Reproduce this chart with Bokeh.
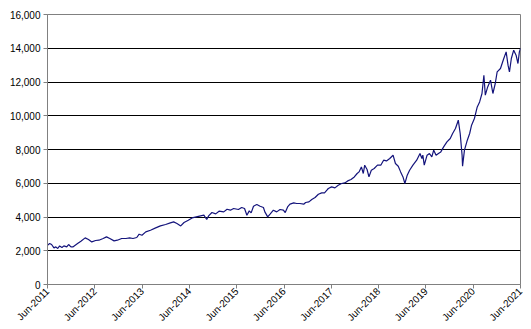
import math
from datetime import datetime, timedelta
from bokeh.plotting import figure
from bokeh.models import FixedTicker, DatetimeTickFormatter, NumeralTickFormatter, Range1d
from bokeh.embed import file_html
from bokeh.resources import INLINE

# dates as decimal years
years = [
    2011.414, 2011.46, 2011.50, 2011.55, 2011.59, 2011.63, 2011.67, 2011.72, 2011.76, 2011.82,
    2011.86, 2011.91, 2011.95, 2012.05, 2012.12, 2012.21, 2012.28, 2012.35, 2012.43, 2012.50,
    2012.59, 2012.66, 2012.73, 2012.82, 2012.89, 2012.98, 2013.07, 2013.15, 2013.22, 2013.30,
    2013.35, 2013.41, 2013.49, 2013.59, 2013.70, 2013.80, 2013.91, 2014.01, 2014.08, 2014.15,
    2014.23, 2014.30, 2014.39, 2014.47, 2014.56, 2014.65, 2014.72, 2014.78, 2014.82, 2014.89,
    2014.97, 2015.04, 2015.14, 2015.21, 2015.28, 2015.35, 2015.45, 2015.52, 2015.58, 2015.63,
    2015.68, 2015.72, 2015.77, 2015.84, 2015.91, 2015.98, 2016.01, 2016.07, 2016.12, 2016.19,
    2016.26, 2016.33, 2016.40, 2016.44, 2016.49, 2016.54, 2016.62, 2016.68, 2016.75, 2016.83,
    2016.87, 2016.94, 2017.00, 2017.07, 2017.14, 2017.21, 2017.27, 2017.32, 2017.35, 2017.42,
    2017.49, 2017.56, 2017.63, 2017.70, 2017.76, 2017.83, 2017.90, 2017.96, 2018.00, 2018.05,
    2018.09, 2018.12, 2018.17, 2018.21, 2018.26, 2018.32, 2018.39, 2018.46, 2018.52, 2018.58,
    2018.65, 2018.72, 2018.77, 2018.83, 2018.88, 2018.93, 2018.97, 2019.02, 2019.07, 2019.14,
    2019.22, 2019.29, 2019.33, 2019.35, 2019.38, 2019.44, 2019.49, 2019.54, 2019.58, 2019.63,
    2019.68, 2019.73, 2019.79, 2019.86, 2019.93, 2019.98, 2020.04, 2020.10, 2020.14, 2020.18,
    2020.19, 2020.23, 2020.29, 2020.34, 2020.38, 2020.44, 2020.50, 2020.55, 2020.60, 2020.64,
    2020.67, 2020.72, 2020.78, 2020.83, 2020.88, 2020.92, 2020.99, 2021.06, 2021.11, 2021.15,
    2021.18, 2021.22, 2021.27, 2021.32, 2021.36, 2021.39, 2021.414,
]
values = [
    2330, 2430, 2370, 2170, 2228, 2133, 2287, 2193, 2287, 2228,
    2370, 2228, 2228, 2430, 2566, 2762, 2667, 2525, 2607, 2625,
    2726, 2821, 2726, 2584, 2625, 2726, 2726, 2762, 2726, 2785,
    2980, 2921, 3117, 3218, 3354, 3473, 3556, 3650, 3710, 3615,
    3473, 3674, 3810, 3947, 4006, 4065, 4107, 3852, 4065, 4267,
    4184, 4344, 4303, 4462, 4403, 4504, 4444, 4563, 4504, 4107,
    4362, 4243, 4640, 4741, 4640, 4563, 4303, 4006, 4166, 4403,
    4303, 4444, 4403, 4267, 4599, 4759, 4836, 4800, 4800, 4759,
    4859, 4895, 5037, 5156, 5351, 5428, 5428, 5588, 5689, 5784,
    5725, 5884, 5985, 6021, 6139, 6222, 6376, 6578, 6673, 6969,
    6578, 7070, 6815, 6376, 6773, 6874, 7070, 7070, 7366, 7325,
    7467, 7662, 7170, 7011, 6673, 6376, 5985, 6477, 6773, 7070,
    7366, 7763, 7467, 7662, 7070, 7662, 7763, 7562, 7959, 7662,
    7763, 7858, 8154, 8451, 8652, 8948, 9244, 9737, 8948, 7662,
    7011, 7959, 8551, 8948, 9440, 9837, 10525, 10821, 11318, 12403,
    11218, 11709, 12107, 11318, 11911, 12599, 12800, 13392, 13784, 12996,
    12599, 13392, 13884, 13589, 13096, 13784, 13985,
]
tick_years = list(range(2011, 2022))
y_ticks = [0, 2000, 4000, 6000, 8000, 10000, 12000, 14000, 16000]


def to_dt(y):
    yr = int(y)
    start = datetime(yr, 1, 1)
    span = (datetime(yr + 1, 1, 1) - start).total_seconds()
    return start + timedelta(seconds=(y - yr) * span)


x = [to_dt(v) for v in years]
x_ticks = [datetime(yr, 6, 1).timestamp() * 1000 for yr in tick_years]

p = figure(width=531, height=329, x_axis_type="datetime", output_backend="svg",
           toolbar_location=None,
           x_range=Range1d(datetime(2011, 6, 1), datetime(2021, 6, 1)),
           y_range=Range1d(0, 16000),
           min_border_left=47, min_border_right=11, min_border_top=14, min_border_bottom=45)

p.line(x, values, line_color="#14147c", line_width=1.2)

p.background_fill_color = "white"
p.border_fill_color = "white"
p.outline_line_color = "#808080"
p.xgrid.grid_line_color = None
p.ygrid.grid_line_color = "#000000"
p.ygrid.grid_line_width = 1

fmt = "%b-%Y"
p.xaxis.ticker = FixedTicker(ticks=x_ticks)
p.xaxis.formatter = DatetimeTickFormatter(milliseconds=fmt, seconds=fmt, minsec=fmt, minutes=fmt,
                                          hourmin=fmt, hours=fmt, days=fmt, months=fmt, years=fmt)
p.xaxis.major_label_orientation = math.pi / 4
p.yaxis.ticker = FixedTicker(ticks=y_ticks)
p.yaxis.formatter = NumeralTickFormatter(format="0,0")

for ax in (p.xaxis, p.yaxis):
    ax.axis_line_color = "#808080"
    ax.major_tick_line_color = "#808080"
    ax.major_tick_out = 4
    ax.major_tick_in = 0
    ax.minor_tick_line_color = None
    ax.major_label_text_font = "Liberation Sans"
    ax.major_label_text_font_size = "10px"
    ax.major_label_text_color = "black"
p.yaxis.major_label_standoff = 3
p.xaxis.major_label_standoff = 1

open("out.html", "w").write(file_html(p, INLINE))
